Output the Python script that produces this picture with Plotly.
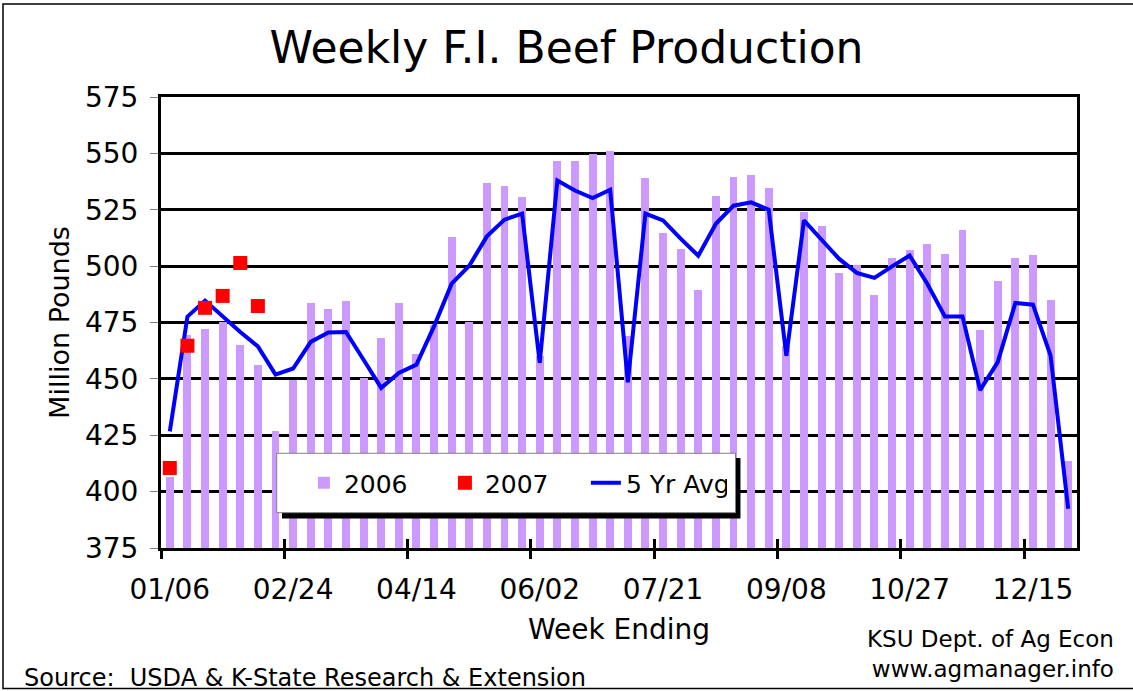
import plotly.graph_objects as go

# ---- data ----
week_labels = ["01/06", "02/24", "04/14", "06/02", "07/21", "09/08", "10/27", "12/15"]
label_weeks = [1, 8, 15, 22, 29, 36, 43, 50]
weeks = list(range(1, 53))

prod_2006 = [406.5, 469.5, 472.3, 475.2, 465.2, 456.0, 426.9, 449.7, 483.7, 480.8,
             484.4, 450.3, 468.0, 483.7, 461.1, 473.8, 512.8, 475.1, 536.9, 535.4,
             530.5, 460.0, 546.8, 546.8, 549.7, 551.1, 469.2, 539.0, 514.8, 507.8,
             489.4, 531.0, 539.6, 540.4, 534.7, 464.4, 524.1, 517.7, 497.1, 500.5,
             487.2, 503.5, 507.0, 510.0, 505.6, 516.2, 471.6, 493.6, 503.5, 505.0,
             485.1, 413.4]

prod_2007 = [410.5, 464.7, 481.5, 486.8, 501.4, 482.3]

avg_5yr = [426.7, 477.6, 484.7, 477.5, 470.8, 464.4, 451.9, 454.6, 466.4, 470.6,
           470.8, 458.5, 446.0, 452.6, 456.3, 473.3, 492.2, 500.2, 513.2, 520.6,
           523.3, 457.1, 538.0, 533.5, 530.2, 533.9, 448.5, 523.3, 520.3, 512.2,
           504.6, 518.8, 526.8, 528.3, 525.0, 460.3, 520.3, 511.7, 503.2, 497.0,
           494.8, 499.9, 504.7, 492.2, 477.7, 477.7, 445.0, 457.4, 483.7, 482.9,
           460.3, 392.4]

FONT = "DejaVu Sans"

fig = go.Figure()
fig.add_trace(go.Bar(x=weeks, y=prod_2006, name="2006", width=0.45,
                     marker=dict(color="#CC99FF", line=dict(width=0)),
                     legendrank=1))
fig.add_trace(go.Scatter(x=weeks, y=avg_5yr, name="5 Yr Avg", mode="lines",
                         line=dict(color="#0000FF", width=4), legendrank=3))
fig.add_trace(go.Scatter(x=weeks[:len(prod_2007)], y=prod_2007, name="2007", mode="markers",
                         marker=dict(symbol="square", size=14, color="#FF0000"),
                         legendrank=2))

# invisible helper traces for boundary tick marks
boundaries = [w - 0.5 for w in label_weeks]
for ax in ("x2", "x3"):
    fig.add_trace(go.Scatter(x=[0.5, 52.5], y=[375, 375], xaxis=ax, mode="none",
                             showlegend=False, hoverinfo="skip"))

xrange = [0.5, 52.5]
fig.update_layout(
    width=1133, height=691,
    margin=dict(l=161, r=56, t=97, b=143),
    paper_bgcolor="white", plot_bgcolor="white",
    font=dict(family=FONT, color="black", size=28),
    title=dict(text="Weekly F.I. Beef Production", x=0.5, xref="container", xanchor="center",
               y=1 - 48 / 691, yref="container", yanchor="middle",
               font=dict(family=FONT, size=44, color="black")),
    bargap=0,
    showlegend=True,
    legend=dict(orientation="h", x=0.156, xanchor="left", y=0.1441, yanchor="middle",
                bgcolor="rgba(0,0,0,0)", borderwidth=0, entrywidth=96,
                font=dict(family=FONT, size=25, color="black")),
    xaxis=dict(range=xrange, tickvals=label_weeks, ticktext=week_labels, ticks="",
               showgrid=False, showline=True, linecolor="black", linewidth=3, mirror=True,
               ticklabelstandoff=14, zeroline=False,
               title=dict(text="Week Ending", standoff=15, font=dict(size=28))),
    xaxis2=dict(range=xrange, overlaying="x", tickvals=boundaries, ticks="outside",
                ticklen=10, tickwidth=3, tickcolor="black", showticklabels=False,
                showgrid=False, showline=False, zeroline=False, anchor="y"),
    xaxis3=dict(range=xrange, overlaying="x", tickvals=boundaries, ticks="inside",
                ticklen=9, tickwidth=3, tickcolor="black", showticklabels=False,
                showgrid=False, showline=False, zeroline=False, anchor="y"),
    yaxis=dict(range=[375, 575], dtick=25, tick0=375, showgrid=True, gridcolor="black",
               gridwidth=2.5, ticks="outside", ticklen=8, tickcolor="#808080", tickwidth=1,
               showline=True, linecolor="black", linewidth=3, mirror=True, zeroline=False,
               ticklabelstandoff=6,
               title=dict(text="Million Pounds", standoff=8, font=dict(size=27))),
    shapes=[
        # outer chart border
        dict(type="rect", xref="paper", yref="paper", x0=-0.1725, x1=1.08, y0=-0.3115, y1=1.2062,
             line=dict(color="black", width=1.5), fillcolor="rgba(0,0,0,0)", layer="above"),
        # legend shadow
        dict(type="rect", xref="paper", yref="paper", x0=0.1321, x1=0.6326, y0=0.0654, y1=0.1996,
             line=dict(width=0), fillcolor="black", layer="above"),
        # legend box
        dict(type="rect", xref="paper", yref="paper", x0=0.1263, x1=0.6272, y0=0.0783, y1=0.2100,
             line=dict(color="#808080", width=1), fillcolor="white", layer="above"),
    ],
    annotations=[
        dict(text="Source:\u00a0 USDA & K-State Research & Extension", xref="paper", yref="paper",
             x=-0.1515, y=-0.288, xanchor="left", yanchor="middle", showarrow=False,
             font=dict(family=FONT, size=24, color="black")),
        dict(text="KSU Dept. of Ag Econ<br>www.agmanager.info", xref="paper", yref="paper",
             x=1.0426, y=-0.235, xanchor="right", yanchor="middle", align="right", showarrow=False,
             font=dict(family=FONT, size=23, color="black")),
    ],
)

fig.write_html("out.html", config={"displayModeBar": False},
               post_script="document.body.style.margin='0';document.body.style.padding='0';")
